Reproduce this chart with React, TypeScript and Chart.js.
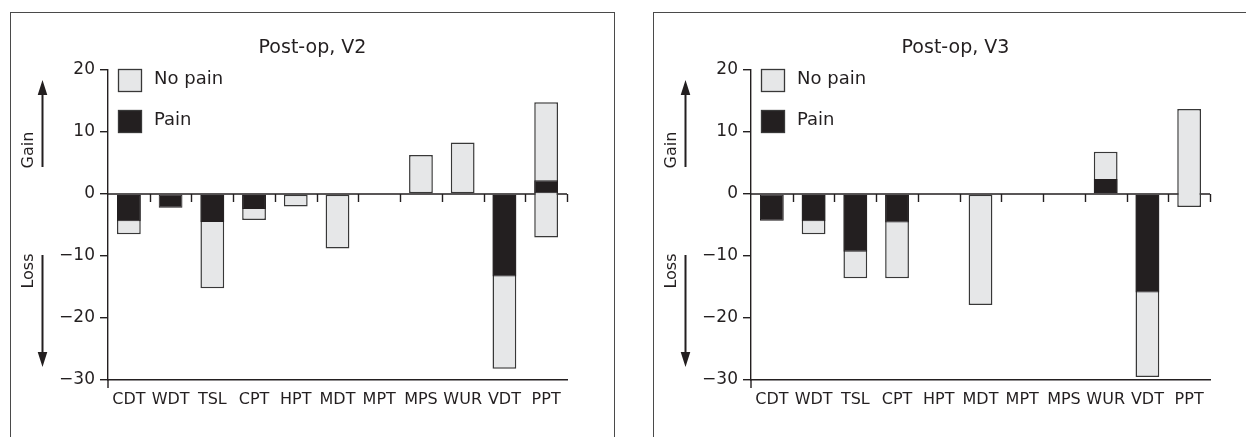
import React, { useEffect, useRef } from "react";
import { Chart, registerables } from "chart.js";

Chart.register(...registerables);

// ---------- data ----------
const categories = ["CDT", "WDT", "TSL", "CPT", "HPT", "MDT", "MPT", "MPS", "WUR", "VDT", "PPT"];

// Post-op, V2
const noPainV2: (number | null)[] = [-6.5, null, -15.2, -4.2, -2.0, -8.8, null, 6.3, 8.3, -28.2, 14.8];
const noPainV2Base: number[] = [0, 0, 0, 0, 0, 0, 0, 0, 0, 0, -7.0];
const painV2: (number | null)[] = [-4.4, -2.2, -4.5, -2.4, null, null, null, null, null, -13.3, 2.2];

// Post-op, V3
const noPainV3: (number | null)[] = [null, -6.5, -13.6, -13.6, null, -17.9, null, null, 6.8, -29.5, 13.7];
const noPainV3Base: number[] = [0, 0, 0, 0, 0, 0, 0, 0, 0, 0, -2.1];
const painV3: (number | null)[] = [-4.3, -4.4, -9.3, -4.6, null, null, null, null, 2.4, -15.9, null];

const yMin = -30;
const yMax = 20;
const yStep = 10;

// ---------- style ----------
const INK = "#231f20";
const GRAY = "#e6e7e8";
const EDGE = "#383838";
const FONT = "'DejaVu Sans', 'Liberation Sans', sans-serif";
const CANVAS_W = 603;
const CANVAS_H = 424;

const decorPlugin = {
  id: "decor",
  beforeDatasetsDraw(chart: any) {
    const { ctx, chartArea, scales } = chart;
    const xs = scales.x;
    const y0 = scales.y.getPixelForValue(0);
    ctx.save();
    ctx.strokeStyle = INK;
    ctx.lineWidth = 1.4;
    ctx.beginPath();
    ctx.moveTo(chartArea.left, y0);
    ctx.lineTo(chartArea.right, y0);
    const n = chart.data.labels.length;
    const w = (chartArea.right - chartArea.left) / n;
    for (let i = 1; i <= n; i++) {
      const x = Math.round(xs.getPixelForTick(i - 1) + w / 2) + 0.5;
      ctx.moveTo(x, y0);
      ctx.lineTo(x, y0 + 8);
    }
    ctx.stroke();
    ctx.restore();
  },
  afterDraw(chart: any, _args: any, opts: any) {
    const { ctx, chartArea } = chart;
    const { left, top, bottom } = chartArea;
    ctx.save();
    ctx.fillStyle = INK;
    ctx.strokeStyle = INK;

    // title
    ctx.font = `19px ${FONT}`;
    ctx.textAlign = "center";
    ctx.textBaseline = "alphabetic";
    ctx.fillText(opts.title, chart.width / 2, 40);

    // legend
    chart.data.datasets.forEach((ds: any, i: number) => {
      const bx = left + 10.5;
      const by = top - 0.5 + i * 41;
      ctx.fillStyle = ds.backgroundColor;
      ctx.fillRect(bx, by, 23, 22);
      ctx.lineWidth = 1.3;
      ctx.strokeStyle = EDGE;
      ctx.strokeRect(bx, by, 23, 22);
      ctx.fillStyle = INK;
      ctx.font = `18px ${FONT}`;
      ctx.textAlign = "left";
      ctx.textBaseline = "middle";
      ctx.fillText(ds.label, left + 46, by + 10);
    });

    // Gain / Loss labels
    ctx.font = `16px ${FONT}`;
    ctx.textAlign = "center";
    ctx.textBaseline = "middle";
    const tx = left - 79;
    ctx.save();
    ctx.translate(tx, top + 80);
    ctx.rotate(-Math.PI / 2);
    ctx.fillText(opts.gain, 0, 0);
    ctx.restore();
    ctx.save();
    ctx.translate(tx, top + 201);
    ctx.rotate(-Math.PI / 2);
    ctx.fillText(opts.loss, 0, 0);
    ctx.restore();

    // arrows
    const ax = left - 65.5;
    ctx.strokeStyle = INK;
    ctx.lineWidth = 2;
    ctx.beginPath();
    ctx.moveTo(ax, top + 97);
    ctx.lineTo(ax, top + 22);
    ctx.moveTo(ax, top + 185);
    ctx.lineTo(ax, top + 285);
    ctx.stroke();
    ctx.beginPath();
    ctx.moveTo(ax, top + 10);
    ctx.lineTo(ax - 4.8, top + 25);
    ctx.lineTo(ax + 4.8, top + 25);
    ctx.closePath();
    ctx.moveTo(ax, top + 297);
    ctx.lineTo(ax - 4.8, top + 282);
    ctx.lineTo(ax + 4.8, top + 282);
    ctx.closePath();
    ctx.fill();

    // y-axis stub below the bottom axis
    ctx.lineWidth = 1.4;
    ctx.beginPath();
    ctx.moveTo(left, bottom);
    ctx.lineTo(left, bottom + 8);
    ctx.stroke();
    ctx.restore();
  },
};

function fmt(v: number) {
  return v < 0 ? "\u2212" + Math.abs(v) : String(v);
}

interface PanelProps {
  x: number;
  title: string;
  noPain: (number | null)[];
  noPainBase: number[];
  pain: (number | null)[];
}

function Panel({ x, title, noPain, noPainBase, pain }: PanelProps) {
  const ref = useRef<HTMLCanvasElement>(null);
  useEffect(() => {
    if (!ref.current) return;
    const noPainData = noPain.map((v, i) => (v === null ? null : [noPainBase[i], v]));
    const chart = new Chart(ref.current, {
      type: "bar",
      data: {
        labels: categories,
        datasets: [
          {
            label: "No pain",
            data: noPainData as any,
            backgroundColor: GRAY,
            borderColor: EDGE,
            borderWidth: 1.5,
            borderSkipped: false,
            grouped: false,
            order: 1,
            barPercentage: 0.57,
            categoryPercentage: 1,
          },
          {
            label: "Pain",
            data: pain as any,
            backgroundColor: INK,
            borderColor: INK,
            borderWidth: 1,
            borderSkipped: false,
            grouped: false,
            order: 0,
            barPercentage: 0.57,
            categoryPercentage: 1,
          },
        ],
      },
      options: {
        responsive: false,
        animation: false,
        layout: { padding: { top: 57, right: 47, left: 0, bottom: 0 } },
        plugins: {
          legend: { display: false },
          title: { display: false },
          tooltip: { enabled: false },
          decor: { title, gain: "Gain", loss: "Loss" },
        } as any,
        scales: {
          x: {
            type: "category",
            offset: true,
            grid: { display: false, drawTicks: false },
            border: { display: true, color: INK, width: 1.4 },
            ticks: {
              color: INK,
              font: { family: FONT, size: 16 },
              padding: 10,
              maxRotation: 0,
              autoSkip: false,
            },
            afterFit: (s: any) => {
              s.height = 57;
            },
          },
          y: {
            min: yMin,
            max: yMax,
            grid: {
              display: true,
              drawOnChartArea: false,
              drawTicks: true,
              tickLength: 8,
              color: INK,
              lineWidth: 1.4,
            },
            border: { display: true, color: INK, width: 1.4 },
            ticks: {
              stepSize: yStep,
              color: INK,
              font: { family: FONT, size: 17 },
              padding: 5,
              callback: (v: any) => fmt(Number(v)),
            },
            afterFit: (s: any) => {
              s.width = 97;
            },
          },
        },
      },
      plugins: [decorPlugin],
    });
    return () => chart.destroy();
  }, []);

  return (
    <div
      style={{
        position: "fixed",
        left: x,
        top: 12,
        width: CANVAS_W,
        height: CANVAS_H,
        borderTop: "1px solid #4a4a4a",
        borderLeft: "1px solid #4a4a4a",
        borderRight: "1px solid #4a4a4a",
        boxSizing: "content-box",
        background: "#fff",
      }}
    >
      <canvas ref={ref} width={CANVAS_W} height={CANVAS_H} style={{ display: "block" }} />
    </div>
  );
}

export default function App() {
  return (
    <div>
      <Panel x={10} title="Post-op, V2" noPain={noPainV2} noPainBase={noPainV2Base} pain={painV2} />
      <Panel x={653} title="Post-op, V3" noPain={noPainV3} noPainBase={noPainV3Base} pain={painV3} />
    </div>
  );
}
